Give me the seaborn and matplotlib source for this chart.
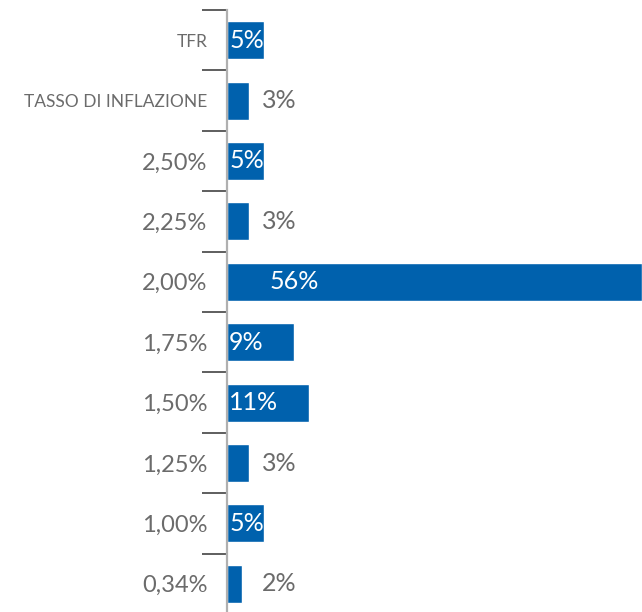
import matplotlib
matplotlib.use("Agg")
import matplotlib.pyplot as plt
import seaborn as sns
import pandas as pd

# data
categories = ["TFR", "TASSO DI INFLAZIONE", "2,50%", "2,25%", "2,00%",
              "1,75%", "1,50%", "1,25%", "1,00%", "0,34%"]
shares = [5, 3, 5, 3, 56, 9, 11, 3, 5, 2]
share_labels = ["5%", "3%", "5%", "3%", "56%", "9%", "11%", "3%", "5%", "2%"]

df = pd.DataFrame({"categoria": categories, "quota": shares})

sns.set_style("white")
plt.rcParams["font.family"] = ["Lato", "DejaVu Sans"]

BLUE = "#0061AD"
GREY = "#6b6b6b"

fig = plt.figure(figsize=(6.42, 6.12), dpi=100)
ax = fig.add_axes([0.3536, -0.0033, 0.6464, 0.987])

sns.barplot(data=df, y="categoria", x="quota", orient="h", color=BLUE,
            width=0.63, saturation=1, ax=ax)

ax.set_xlim(0, 56)
ax.set_ylim(len(categories) - 0.5, -0.5)
ax.set_xlabel("")
ax.set_ylabel("")
ax.set_xticks([])

for s in ["top", "right", "bottom"]:
    ax.spines[s].set_visible(False)
ax.spines["left"].set_color("#b0b0b0")
ax.spines["left"].set_linewidth(1.6)

# labels on major ticks, tick marks at the row boundaries
ax.set_yticks(range(len(categories)))
ax.set_yticklabels(categories)
ax.tick_params(axis="y", which="major", left=True, length=0, pad=14,
               labelcolor=GREY, labelsize=17)
for lab in ax.get_yticklabels():
    if lab.get_text() in ("TFR", "TASSO DI INFLAZIONE"):
        lab.set_fontsize(12.5)
ax.set_yticks([i - 0.5 for i in range(len(categories) + 1)], minor=True)
ax.tick_params(axis="y", which="minor", left=True, length=18, width=1.1,
               color="#333333")

# value labels: white inside the wider bars, grey outside the short ones
for i, (v, txt) in enumerate(zip(shares, share_labels)):
    if v >= 5:
        x = 5.8 if v > 20 else 0.3
        ax.text(x, i, txt, va="center", ha="left", color="white", fontsize=18)
    else:
        ax.text(7.0, i, txt, va="center", ha="center", color=GREY, fontsize=18)

fig.savefig("out.png", dpi=100)
plt.close(fig)
